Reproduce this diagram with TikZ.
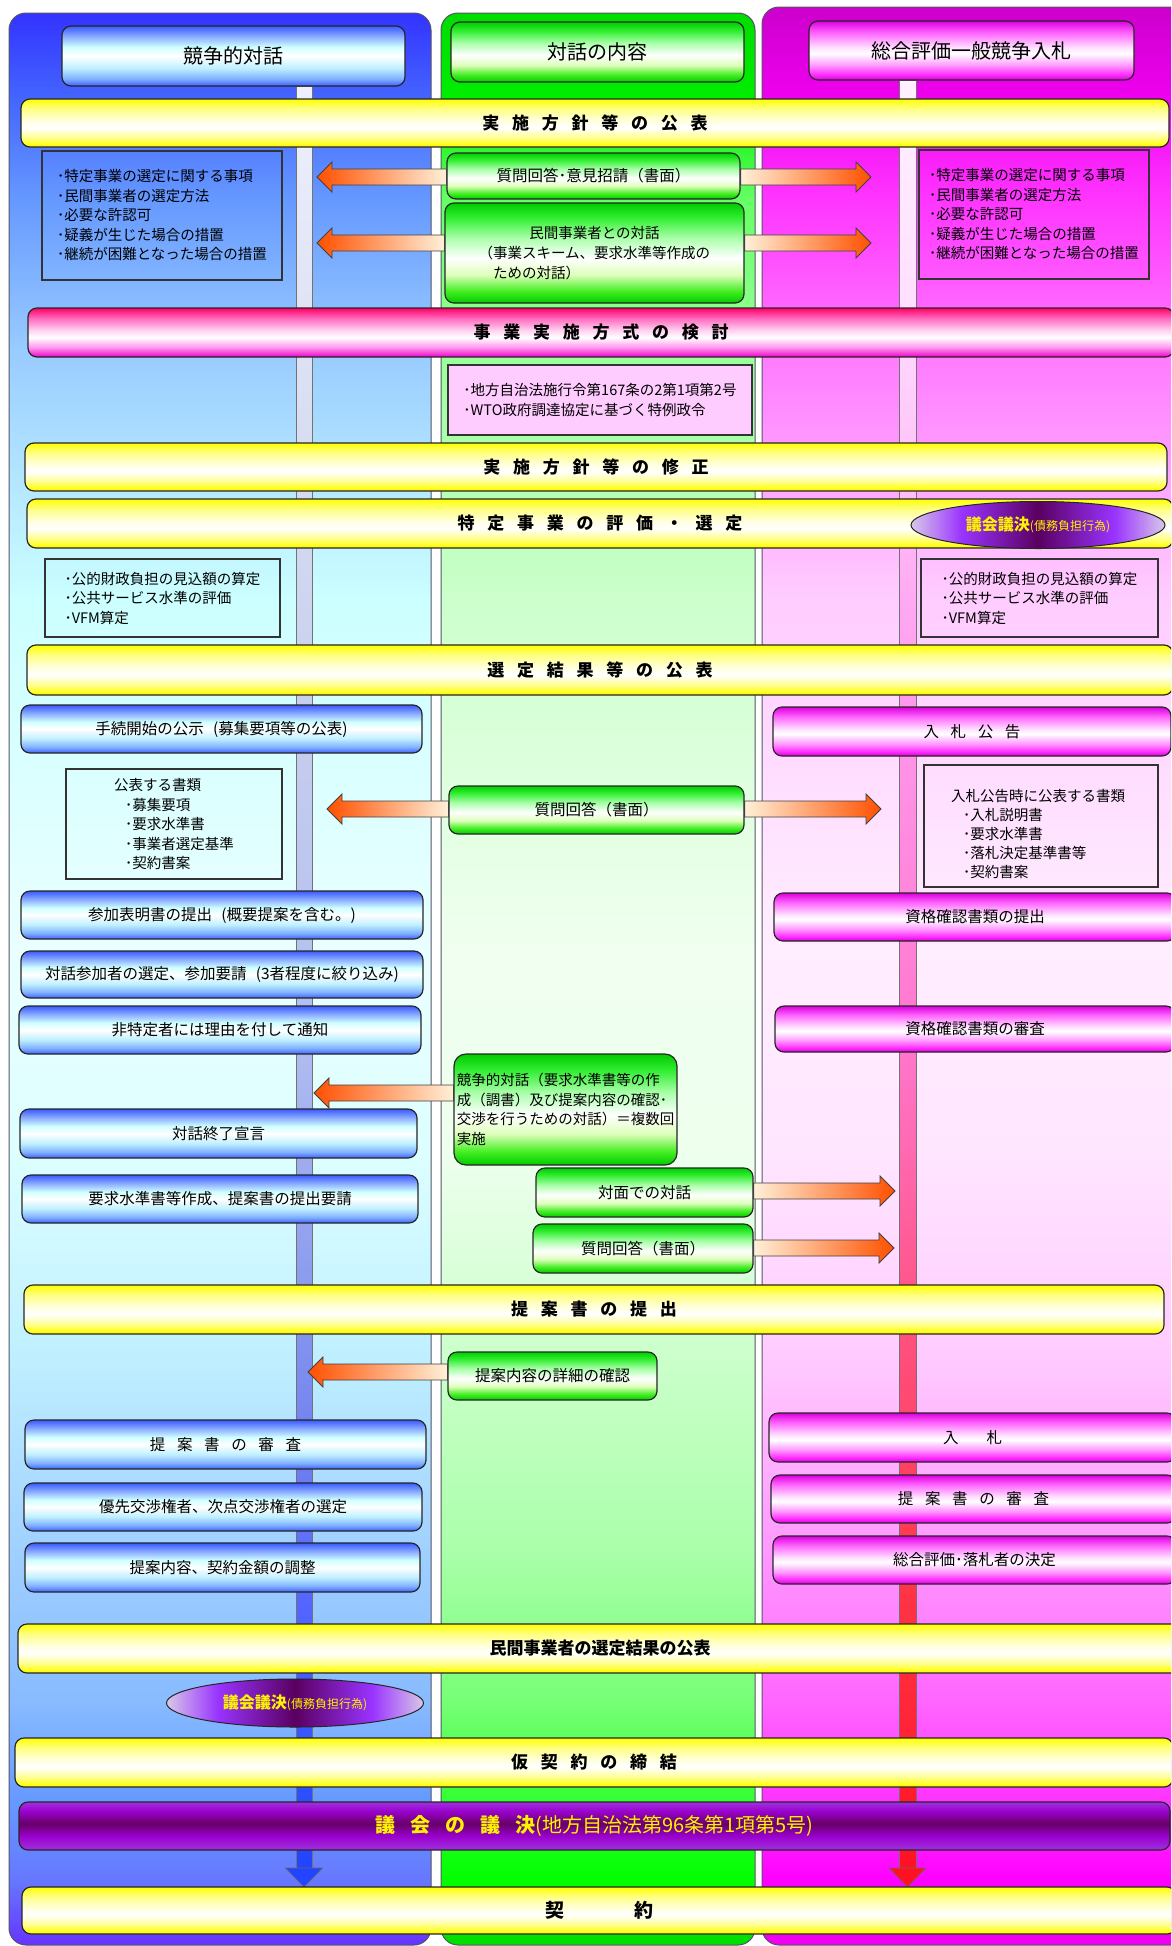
\documentclass[tikz,border=0pt]{standalone}
\usepackage{fontspec}
\setmainfont{Noto Sans CJK JP}
\usetikzlibrary{calc,shapes.geometric}

\newcommand\hx[2]{\definecolor{#1}{HTML}{#2}}
\newcommand\widegap{\spaceskip=0.75em\relax}

% lane colours, listed from the bottom of the lane to its top
\hx{pLa}{6633FF}\hx{pLb}{6677FF}\hx{pLc}{6699FF}\hx{pLd}{88BBFF}\hx{pLe}{A0D0FF}\hx{pLf}{C0F0FF}\hx{pLg}{DDFFFF}\hx{pLh}{EAFFFF}\hx{pLi}{CCFFFF}\hx{pLj}{99CCFF}\hx{pLk}{6699FF}\hx{pLl}{4466FF}\hx{pLm}{3333FF}
\hx{pMa}{00DD00}\hx{pMb}{00FF00}\hx{pMc}{33FF33}\hx{pMd}{77FF77}\hx{pMe}{AAFFAA}\hx{pMf}{CCFFCC}\hx{pMg}{EEFFEE}\hx{pMh}{F0FFF0}\hx{pMi}{CCFFCC}\hx{pMj}{99FF99}\hx{pMk}{66FF66}\hx{pMl}{00EE00}\hx{pMm}{00DD00}
\hx{pRa}{EE00EE}\hx{pRb}{FF00FF}\hx{pRc}{FF33FF}\hx{pRd}{FF66FF}\hx{pRe}{FF99FF}\hx{pRf}{FFCCFF}\hx{pRg}{FFE6FF}\hx{pRh}{FFEEFF}\hx{pRi}{FFCCFF}\hx{pRj}{FF77FF}\hx{pRk}{FF33FF}\hx{pRl}{EE00EE}\hx{pRm}{CC00CC}
\newcommand\laneshade[2]{%
  \pgfdeclareverticalshading{#1}{100bp}{color(0bp)=(#2a); color(25bp)=(#2a); color(26.66bp)=(#2b); color(28.73bp)=(#2c); color(31.32bp)=(#2d); color(35.2bp)=(#2e); color(40.38bp)=(#2f); color(45.56bp)=(#2g); color(50.74bp)=(#2h); color(59.8bp)=(#2i); color(66.27bp)=(#2j); color(70.16bp)=(#2k); color(72.75bp)=(#2l); color(75bp)=(#2m); color(100bp)=(#2m)}}
\laneshade{laneL}{pL}\laneshade{laneM}{pM}\laneshade{laneR}{pR}

% guide lines running down each side lane
\hx{vLa}{2244FF}\hx{vLb}{3355FF}\hx{vLc}{5566FF}\hx{vLd}{7080F0}\hx{vLe}{8899EE}\hx{vLf}{B0BCF0}\hx{vLg}{C8D0EE}\hx{vLh}{E0E4F4}\hx{vLi}{EEF0FF}
\hx{vRa}{FF1122}\hx{vRb}{FF2233}\hx{vRc}{FF3344}\hx{vRd}{FF4466}\hx{vRe}{FF5588}\hx{vRf}{FF77CC}\hx{vRg}{FF99EE}\hx{vRh}{FFE0FF}\hx{vRi}{FFF0FF}
\newcommand\guideshade[2]{%
  \pgfdeclareverticalshading{#1}{100bp}{color(0bp)=(#2a); color(25bp)=(#2a); color(28.31bp)=(#2b); color(32.52bp)=(#2c); color(36.73bp)=(#2d); color(40.94bp)=(#2e); color(47.95bp)=(#2f); color(57.8bp)=(#2g); color(69bp)=(#2h); color(75bp)=(#2i); color(100bp)=(#2i)}}
\guideshade{guideL}{vL}\guideshade{guideR}{vR}

% box and banner fills
\hx{bBa}{4060FF}\hx{bBb}{80B0FF}\hx{bBc}{C0F0FF}\hx{bBd}{FFFFFF}\hx{bBe}{D0FFFF}\hx{bBf}{7FA0FF}\hx{bBg}{3A5AFF}
\pgfdeclareverticalshading{boxB}{100bp}{color(0bp)=(bBa); color(25bp)=(bBa); color(31bp)=(bBb); color(40bp)=(bBc); color(50bp)=(bBd); color(57.5bp)=(bBe); color(67.5bp)=(bBf); color(75bp)=(bBg); color(100bp)=(bBg)}
\hx{bMa}{DD00DD}\hx{bMb}{FF33FF}\hx{bMc}{FF99FF}\hx{bMd}{FFFFFF}\hx{bMe}{FFE0FF}\hx{bMf}{FF66FF}\hx{bMg}{DD00DD}
\pgfdeclareverticalshading{boxM}{100bp}{color(0bp)=(bMa); color(25bp)=(bMa); color(30bp)=(bMb); color(37.5bp)=(bMc); color(47.5bp)=(bMd); color(52.5bp)=(bMe); color(65bp)=(bMf); color(75bp)=(bMg); color(100bp)=(bMg)}
\hx{bGa}{00CC00}\hx{bGb}{44EE22}\hx{bGc}{DDFFBB}\hx{bGd}{FFFFFF}\hx{bGe}{AAFFAA}\hx{bGf}{33EE33}\hx{bGg}{00CC00}
\pgfdeclareverticalshading{boxG}{100bp}{color(0bp)=(bGa); color(25bp)=(bGa); color(31bp)=(bGb); color(39bp)=(bGc); color(47.5bp)=(bGd); color(57.5bp)=(bGe); color(67.5bp)=(bGf); color(75bp)=(bGg); color(100bp)=(bGg)}
\hx{yBa}{FFEE00}\hx{yBb}{FFFF20}\hx{yBc}{FFFF90}\hx{yBd}{FFFFFF}\hx{yBe}{FFFFE0}\hx{yBf}{FFFF80}\hx{yBg}{FFFF00}
\pgfdeclareverticalshading{banY}{100bp}{color(0bp)=(yBa); color(25bp)=(yBa); color(28.5bp)=(yBb); color(35bp)=(yBc); color(45bp)=(yBd); color(52.5bp)=(yBe); color(65bp)=(yBf); color(75bp)=(yBg); color(100bp)=(yBg)}
\hx{pBa}{EE00CC}\hx{pBb}{FF99EE}\hx{pBc}{FFFFFF}\hx{pBd}{FFD0F0}\hx{pBe}{FF66BB}\hx{pBf}{FF0066}
\pgfdeclareverticalshading{banP}{100bp}{color(0bp)=(pBa); color(25bp)=(pBa); color(35bp)=(pBb); color(45bp)=(pBc); color(52.5bp)=(pBd); color(65bp)=(pBe); color(75bp)=(pBf); color(100bp)=(pBf)}
\hx{vBa}{A030E0}\hx{vBb}{9900CC}\hx{vBc}{660066}
\pgfdeclareverticalshading{banV}{100bp}{color(0bp)=(vBa); color(25bp)=(vBa); color(40bp)=(vBb); color(52.5bp)=(vBc); color(65bp)=(vBb); color(75bp)=(vBa); color(100bp)=(vBa)}
\hx{eA}{D8C8E8}\hx{eB}{9933FF}\hx{eC}{5A0060}
\pgfdeclarehorizontalshading{ellS}{100bp}{color(0bp)=(eA); color(25bp)=(eA); color(35bp)=(eB); color(50bp)=(eC); color(65bp)=(eB); color(75bp)=(eA); color(100bp)=(eA)}
\hx{arDeep}{FF5000}\hx{arMid}{FFAA44}\hx{arPale}{FFF0D8}
\hx{pinkfill}{FFCCFF}\hx{laneedge}{555566}

% block arrow from a point on a box edge to a tip; #4 = signed head length
\newcommand\blockarrow[4]{%
  \path[#1] let \p1=(#2), \p2=(#3) in
    (\x1,{\y1+8pt}) -- ({\x2-(#4pt)},{\y1+8pt}) -- ({\x2-(#4pt)},{\y1+15pt})
    -- (\x2,\y1) -- ({\x2-(#4pt)},{\y1-15pt}) -- ({\x2-(#4pt)},{\y1-8pt})
    -- (\x1,{\y1-8pt}) -- cycle;}

\begin{document}
\begin{tikzpicture}[x=1pt,y=-1pt,
  boxbase/.style={shade, inner sep=0pt, line width=1.2pt, rounded corners=9pt, align=center, draw=black!85},
  bluebox/.style={boxbase, shading=boxB, font=\fontsize{15.5}{19}\selectfont},
  magbox/.style={boxbase, shading=boxM, font=\fontsize{15.5}{19}\selectfont},
  greenbox/.style={boxbase, shading=boxG, font=\fontsize{15.5}{19}\selectfont},
  headtext/.style={font=\fontsize{20}{24}\selectfont},
  spaced/.style={font=\fontsize{15.5}{19}\selectfont\widegap},
  banner/.style={boxbase, shading=banY, font=\bfseries\fontsize{17}{20}\selectfont\widegap},
  listbox/.style={draw=black!80, line width=1.6pt, inner sep=0pt, align=left, font=\fontsize{14.5}{19.5}\selectfont},
  listtext/.style={inner sep=0pt, align=left, font=\fontsize{14.5}{19}\selectfont},
  ellnode/.style={ellipse, shade, shading=ellS, draw=black!85, line width=1pt, inner sep=0pt, text=yellow},
  arrL/.style={left color=arDeep, middle color=arMid, right color=arPale, draw=black!75, line width=0.8pt},
  arrR/.style={left color=arPale, middle color=arMid, right color=arDeep, draw=black!75, line width=0.8pt},
  guide/.style={shade, draw=black!55, line width=0.6pt},
  guidehead/.style={draw=black!60, line width=0.6pt}]
\useasboundingbox (0,0) rectangle (1171,1946);
\clip (0,0) rectangle (1171,1946);

% three lanes
\path[shade, shading=laneL, draw=laneedge, line width=1pt, rounded corners=17pt] (9,13) rectangle (431,1945);
\path[shade, shading=laneM, draw=laneedge, line width=1pt, rounded corners=17pt] (441,13) rectangle (755,1945);
\path[shade, shading=laneR, draw=laneedge, line width=1pt, rounded corners=17pt] (762,7) rectangle (1200,1945);

% guide lines with their arrow heads
\coordinate (gLtop) at (304,86);
\coordinate (gLend) at (304,1868);
\coordinate (gRtop) at (907.5,80);
\coordinate (gRend) at (907.5,1868);
\path[guide, shading=guideL] ($(gLtop)+(-8,0)$) rectangle ($(gLend)+(8,0)$);
\path[guide, shading=guideR] ($(gRtop)+(-8.5,0)$) rectangle ($(gRend)+(8.5,0)$);
\path[guidehead, fill=vLa] ($(gLend)+(-18.5,0)$) -- ($(gLend)+(18.5,0)$) -- ($(gLend)+(0,19)$) -- cycle;
\path[guidehead, fill=vRa] ($(gRend)+(-18.5,0)$) -- ($(gRend)+(18.5,0)$) -- ($(gRend)+(0,19)$) -- cycle;

% lane headings
\node[bluebox, headtext, minimum width=343pt, minimum height=60pt] (hdL) at (233.5,56) {競争的対話};
\node[greenbox, headtext, minimum width=293pt, minimum height=60pt] (hdM) at (597.5,52) {対話の内容};
\node[magbox, headtext, minimum width=325pt, minimum height=59pt] (hdR) at (971.5,50.5) {総合評価一般競争入札};

% full-width stages
\node[banner, minimum width=1148pt, minimum height=48pt] (b1) at (595,123) {実 施 方 針 等 の 公 表};
\node[banner, shading=banP, minimum width=1146pt, minimum height=49pt] (b2) at (601,332.5) {事 業 実 施 方 式 の 検 討};
\node[banner, minimum width=1142pt, minimum height=48pt] (b3) at (596,467) {実 施 方 針 等 の 修 正};
\node[banner, minimum width=1146pt, minimum height=49pt] (b4) at (600,523.5) {特 定 事 業 の 評 価 ・ 選 定};
\node[banner, minimum width=1146pt, minimum height=50pt] (b5) at (600,670) {選 定 結 果 等 の 公 表};
\node[banner, minimum width=1140pt, minimum height=49pt] (b6) at (594,1309.5) {提 案 書 の 提 出};
\node[banner, minimum width=1164pt, minimum height=49pt] (b7) at (600,1648.5) {民間事業者の選定結果の公表};
\node[banner, minimum width=1158pt, minimum height=49pt] (b8) at (594,1762.5) {仮 契 約 の 締 結};
\node[banner, shading=banV, text=yellow, font=\fontsize{20}{22}\selectfont\widegap, minimum width=1151pt, minimum height=48pt] (b9) at (594.5,1826) {{\bfseries 議 会 の 議 決}(地方自治法第96条第1項第5号)};
\node[banner, font=\bfseries\fontsize{19}{22}\selectfont, minimum width=1154pt, minimum height=47pt] (b10) at (599,1910.5) {契\hspace{70pt}約};

% council resolution marks
\node[ellnode, minimum width=254pt, minimum height=47pt] (eR) at (1038,525) {{\bfseries\fontsize{16}{16}\selectfont 議会議決}{\fontsize{12}{12}\selectfont(債務負担行為)}};
\node[ellnode, minimum width=257pt, minimum height=48pt] (eL) at (295,1703) {{\bfseries\fontsize{16}{16}\selectfont 議会議決}{\fontsize{12}{12}\selectfont(債務負担行為)}};

% item lists
\node[listbox, minimum width=240pt, minimum height=129pt] (lstA) at (162,215.5) {･特定事業の選定に関する事項\\･民間事業者の選定方法\\･必要な許認可\\･疑義が生じた場合の措置\\･継続が困難となった場合の措置};
\node[listbox, minimum width=230pt, minimum height=129pt] (lstB) at (1034,214.5) {･特定事業の選定に関する事項\\･民間事業者の選定方法\\･必要な許認可\\･疑義が生じた場合の措置\\･継続が困難となった場合の措置};
\node[listbox, fill=pinkfill, minimum width=304pt, minimum height=70pt] (lstC) at (600,400) {･地方自治法施行令第167条の2第1項第2号\\･WTO政府調達協定に基づく特例政令};
\node[listbox, minimum width=235pt, minimum height=78pt] (lstD) at (162.5,598) {･公的財政負担の見込額の算定\\･公共サービス水準の評価\\･VFM算定};
\node[listbox, minimum width=237pt, minimum height=78pt] (lstE) at (1039.5,598) {･公的財政負担の見込額の算定\\･公共サービス水準の評価\\･VFM算定};
\node[listbox, minimum width=216pt, minimum height=110pt] (lstF) at (174,824) {公表する書類\\\hspace*{11pt}･募集要項\\\hspace*{11pt}･要求水準書\\\hspace*{11pt}･事業者選定基準\\\hspace*{11pt}･契約書案};
\node[listbox, minimum width=234pt, minimum height=122pt] (lstG) at (1041,826) {};
\node[listtext] (lstGt) at (1038,834) {入札公告時に公表する書類\\\hspace*{12pt}･入札説明書\\\hspace*{12pt}･要求水準書\\\hspace*{12pt}･落札決定基準書等\\\hspace*{12pt}･契約書案};

% competitive dialogue lane
\node[bluebox, minimum width=401pt, minimum height=48pt] (L1) at (221.5,729) {手続開始の公示\hspace{0.6em}(募集要項等の公表)};
\node[bluebox, minimum width=402pt, minimum height=48pt] (L2) at (222,915) {参加表明書の提出\hspace{0.6em}(概要提案を含む。)};
\node[bluebox, minimum width=402pt, minimum height=47pt] (L3) at (222,974.5) {対話参加者の選定、参加要請\hspace{0.6em}(3者程度に絞り込み)};
\node[bluebox, minimum width=402pt, minimum height=48pt] (L4) at (220,1030) {非特定者には理由を付して通知};
\node[bluebox, minimum width=397pt, minimum height=49pt] (L5) at (218.5,1133.5) {対話終了宣言};
\node[bluebox, minimum width=396pt, minimum height=48pt] (L6) at (220,1199) {要求水準書等作成、提案書の提出要請};
\node[bluebox, spaced, minimum width=401pt, minimum height=49pt] (L7) at (225.5,1444.5) {提 案 書 の 審 査};
\node[bluebox, minimum width=398pt, minimum height=48pt] (L8) at (223,1507) {優先交渉権者、次点交渉権者の選定};
\node[bluebox, minimum width=395pt, minimum height=49pt] (L9) at (222.5,1567.5) {提案内容、契約金額の調整};

% general competitive tender lane
\node[magbox, spaced, minimum width=398pt, minimum height=49pt] (R1) at (972,731.5) {入 札 公 告};
\node[magbox, minimum width=402pt, minimum height=48pt] (R2) at (975,917) {資格確認書類の提出};
\node[magbox, minimum width=400pt, minimum height=46pt] (R3) at (975,1029) {資格確認書類の審査};
\node[magbox, minimum width=407pt, minimum height=49pt] (R4) at (972.5,1437.5) {入\hspace{28pt}札};
\node[magbox, spaced, minimum width=405pt, minimum height=48pt] (R5) at (973.5,1499) {提 案 書 の 審 査};
\node[magbox, minimum width=403pt, minimum height=48pt] (R6) at (974.5,1560) {総合評価･落札者の決定};

% dialogue content lane
\node[greenbox, minimum width=293pt, minimum height=46pt] (g1) at (593.5,176) {質問回答･意見招請（書面）};
\node[greenbox, font=\fontsize{14.5}{20}\selectfont, minimum width=299pt, minimum height=100pt] (g2) at (594.5,253) {民間事業者との対話\\\makebox[16em][l]{（事業スキーム、要求水準等作成の}\\\makebox[16em][l]{\hspace*{1em}ための対話）}};
\node[greenbox, minimum width=295pt, minimum height=48pt] (g3) at (596.5,810) {質問回答（書面）};
\node[greenbox, align=left, rounded corners=12pt, font=\fontsize{14.5}{19.5}\selectfont, minimum width=223pt, minimum height=111pt] (g4) at (565.5,1109.5) {競争的対話（要求水準書等の作\\成（調書）及び提案内容の確認･\\交渉を行うための対話）＝複数回\\実施};
\node[greenbox, minimum width=217pt, minimum height=49pt] (g5) at (644.5,1192.5) {対面での対話};
\node[greenbox, minimum width=220pt, minimum height=49pt] (g6) at (643,1248.5) {質問回答（書面）};
\node[greenbox, minimum width=209pt, minimum height=48pt] (g7) at (552.5,1376) {提案内容の詳細の確認};

% arrow tips
\coordinate (tA) at (317,177);  \coordinate (tB) at (871,177);
\coordinate (tC) at (317,243);  \coordinate (tD) at (871,243);
\coordinate (tE) at (327,809);  \coordinate (tF) at (881,809);
\coordinate (tG) at (314,1093);
\coordinate (tH) at (895,1191);
\coordinate (tI) at (894,1248);
\coordinate (tJ) at (308,1372);

% block arrows out of the dialogue lane
\blockarrow{arrL}{g1.west |- tA}{tA}{-15}
\blockarrow{arrR}{g1.east |- tB}{tB}{15}
\blockarrow{arrL}{g2.west |- tC}{tC}{-15}
\blockarrow{arrR}{g2.east |- tD}{tD}{15}
\blockarrow{arrL}{g3.west |- tE}{tE}{-15}
\blockarrow{arrR}{g3.east |- tF}{tF}{15}
\blockarrow{arrL}{g4.west |- tG}{tG}{-15}
\blockarrow{arrR}{g5.east |- tH}{tH}{15}
\blockarrow{arrR}{g6.east |- tI}{tI}{15}
\blockarrow{arrL}{g7.west |- tJ}{tJ}{-15}
\end{tikzpicture}
\end{document}
